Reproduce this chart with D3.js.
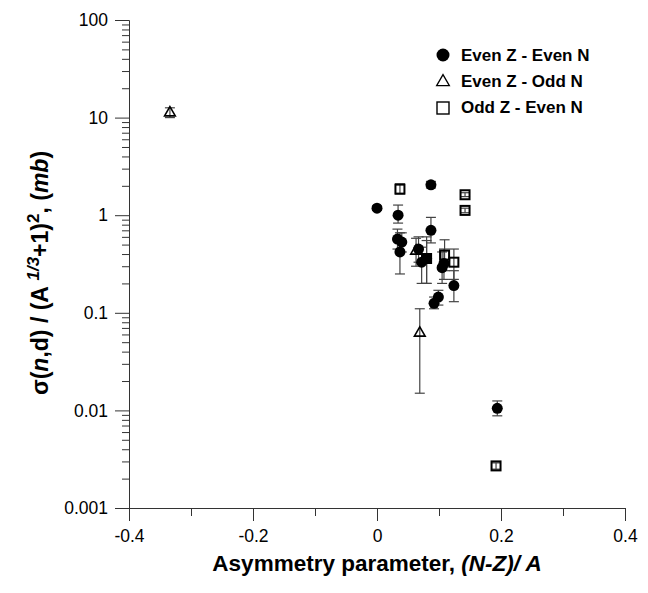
<!DOCTYPE html>
<html>
<head>
<meta charset="utf-8">
<script src="https://cdn.jsdelivr.net/npm/d3@7"></script>
<style>
  body { margin: 0; background: #fff; }
  svg { font-family: "Liberation Sans", Arial, sans-serif; }
  .tick text { font-size: 17.5px; fill: #000; }
</style>
</head>
<body>
<div id="graphicContainer"></div>
<script>
// [x, y, errLow, errHigh]
var evenEven = [
  [0.000, 1.18, 1.12, 1.24],
  [0.034, 1.00, 0.83, 1.27],
  [0.087, 2.05, 1.90, 2.22],
  [0.087, 0.70, 0.52, 0.95],
  [0.033, 0.57, 0.45, 0.72],
  [0.040, 0.53, 0.42, 0.66],
  [0.037, 0.42, 0.25, 0.66],
  [0.067, 0.45, 0.33, 0.60],
  [0.072, 0.33, 0.20, 0.47],
  [0.080, 0.36, 0.20, 0.55],
  [0.105, 0.29, 0.20, 0.42],
  [0.108, 0.32, 0.22, 0.45],
  [0.124, 0.19, 0.13, 0.27],
  [0.099, 0.145, 0.12, 0.17],
  [0.092, 0.125, 0.11, 0.145],
  [0.194, 0.0105, 0.0088, 0.0125]
];
var evenOdd = [
  [-0.334, 11.2, 10.0, 12.6],
  [0.063, 0.43, 0.30, 0.58],
  [0.069, 0.062, 0.015, 0.11]
];
var oddEven = [
  [0.037, 1.85, 1.65, 2.10],
  [0.142, 1.62, 1.55, 1.70],
  [0.142, 1.12, 1.06, 1.18],
  [0.080, 0.36, 0.20, 0.60],
  [0.109, 0.39, 0.27, 0.56],
  [0.124, 0.33, 0.22, 0.45],
  [0.192, 0.0027, 0.0025, 0.0029]
];
var xMajor = [-0.4, -0.2, 0, 0.2, 0.4];
var xMinor = [-0.3, -0.1, 0.1, 0.3];
var xLabels = ["-0.4", "-0.2", "0", "0.2", "0.4"];
var yLabels = [0.001, 0.01, 0.1, 1, 10, 100];
var legendNames = ["Even Z - Even N", "Even Z - Odd N", "Odd Z - Even N"];

var w = 648, h = 593;
var margin = {top: 20, right: 23, bottom: 85, left: 129},
    width = w - margin.left - margin.right,
    height = h - margin.top - margin.bottom;

var svg = d3.select("#graphicContainer").append("svg")
    .attr("width", w)
    .attr("height", h)
  .append("g")
    .attr("transform", "translate(" + margin.left + "," + margin.top + ")");

var x = d3.scaleLinear().domain([-0.4, 0.4]).range([0, width]);
var y = d3.scaleLog().domain([0.001, 100]).range([height, 0]);

// minor y ticks
var yMinorVals = [];
for (var d = 0.001; d < 100; d *= 10) {
  for (var k = 2; k <= 9; k++) yMinorVals.push(d * k);
}

var xAxis = d3.axisBottom(x).tickValues(xMajor).tickSize(13).tickPadding(6)
    .tickFormat(function(v, i) { return xLabels[i]; });
var xAxisMinor = d3.axisBottom(x).tickValues(xMinor).tickSize(8).tickFormat("");
var yAxis = d3.axisLeft(y).tickValues(yLabels).tickSize(14).tickPadding(7)
    .tickFormat(function(v) { return String(v); });
var yMinor = d3.axisLeft(y).tickValues(yMinorVals).tickSize(7).tickFormat("");

svg.append("g")
    .attr("class", "x minor")
    .attr("transform", "translate(0," + height + ")")
    .call(xAxisMinor)
    .call(function(g) { g.select(".domain").remove(); });

svg.append("g")
    .attr("class", "x axis")
    .attr("transform", "translate(0," + height + ")")
    .call(xAxis)
    .call(function(g) { g.selectAll("text").attr("dy", "0.85em"); });

svg.append("g").attr("class", "y minor").call(yMinor)
    .call(function(g) { g.select(".domain").remove(); });
svg.append("g").attr("class", "y axis").call(yAxis);

svg.selectAll(".domain, .tick line").attr("stroke", "#333");

// error bars
function errorBars(data) {
  var g = svg.append("g").attr("stroke", "#444").attr("stroke-width", 1.2);
  data.forEach(function(p) {
    var cx = x(p[0]);
    g.append("line").attr("x1", cx).attr("x2", cx).attr("y1", y(p[2])).attr("y2", y(p[3]));
    g.append("line").attr("x1", cx - 5).attr("x2", cx + 5).attr("y1", y(p[2])).attr("y2", y(p[2]));
    g.append("line").attr("x1", cx - 5).attr("x2", cx + 5).attr("y1", y(p[3])).attr("y2", y(p[3]));
  });
}
errorBars(evenEven);
errorBars(evenOdd);
errorBars(oddEven);

var tri = d3.symbol().type(d3.symbolTriangle).size(50);
var triLeg = d3.symbol().type(d3.symbolTriangle).size(70);

svg.append("g").selectAll("rect").data(oddEven).enter().append("rect")
    .attr("x", function(d) { return x(d[0]) - 4.5; })
    .attr("y", function(d) { return y(d[1]) - 4.5; })
    .attr("width", 9).attr("height", 9)
    .attr("fill", "none").attr("stroke", "#000").attr("stroke-width", 2);

svg.append("g").selectAll("path").data(evenOdd).enter().append("path")
    .attr("d", tri)
    .attr("transform", function(d) { return "translate(" + x(d[0]) + "," + y(d[1]) + ")"; })
    .attr("fill", "none").attr("stroke", "#000").attr("stroke-width", 1.6);

svg.append("g").selectAll("circle").data(evenEven).enter().append("circle")
    .attr("cx", function(d) { return x(d[0]); })
    .attr("cy", function(d) { return y(d[1]); })
    .attr("r", 5.5).attr("fill", "#000");

// legend
var leg = svg.append("g").attr("transform", "translate(314,35)");
legendNames.forEach(function(name, i) {
  var gy = i * 26;
  if (i === 0) leg.append("circle").attr("cx", 0).attr("cy", gy).attr("r", 6.5).attr("fill", "#000");
  if (i === 1) leg.append("path").attr("d", triLeg).attr("transform", "translate(0," + (gy + 1) + ")")
      .attr("fill", "none").attr("stroke", "#000").attr("stroke-width", 1.3);
  if (i === 2) leg.append("rect").attr("x", -6).attr("y", gy - 5).attr("width", 12).attr("height", 12)
      .attr("fill", "none").attr("stroke", "#000").attr("stroke-width", 1.4);
  leg.append("text").attr("x", 18).attr("y", gy).attr("dy", "0.35em")
      .attr("font-size", "17px").attr("font-weight", "bold").text(name);
});

// axis titles
var xt = svg.append("text")
    .attr("x", width / 2).attr("y", height + 63)
    .attr("text-anchor", "middle").attr("font-size", "22.5px").attr("font-weight", "bold");
xt.append("tspan").text("Asymmetry parameter, ");
xt.append("tspan").attr("font-style", "italic").text("(N-Z)/ A");

var yt = svg.append("text")
    .attr("transform", "translate(-81," + (height / 2 + 9) + ") rotate(-90)")
    .attr("text-anchor", "middle").attr("font-size", "23px").attr("font-weight", "bold");
yt.append("tspan").text("σ(");
yt.append("tspan").attr("font-style", "italic").text("n");
yt.append("tspan").text(",d) / (A ");
yt.append("tspan").attr("font-size", "17px").attr("dy", "-9").attr("font-style", "italic").text("1/3");
yt.append("tspan").attr("dy", "9").text("+1)");
yt.append("tspan").attr("font-size", "17px").attr("dy", "-9").text("2");
yt.append("tspan").attr("dy", "9").text(", (");
yt.append("tspan").attr("font-style", "italic").text("mb");
yt.append("tspan").text(")");
</script>
</body>
</html>
